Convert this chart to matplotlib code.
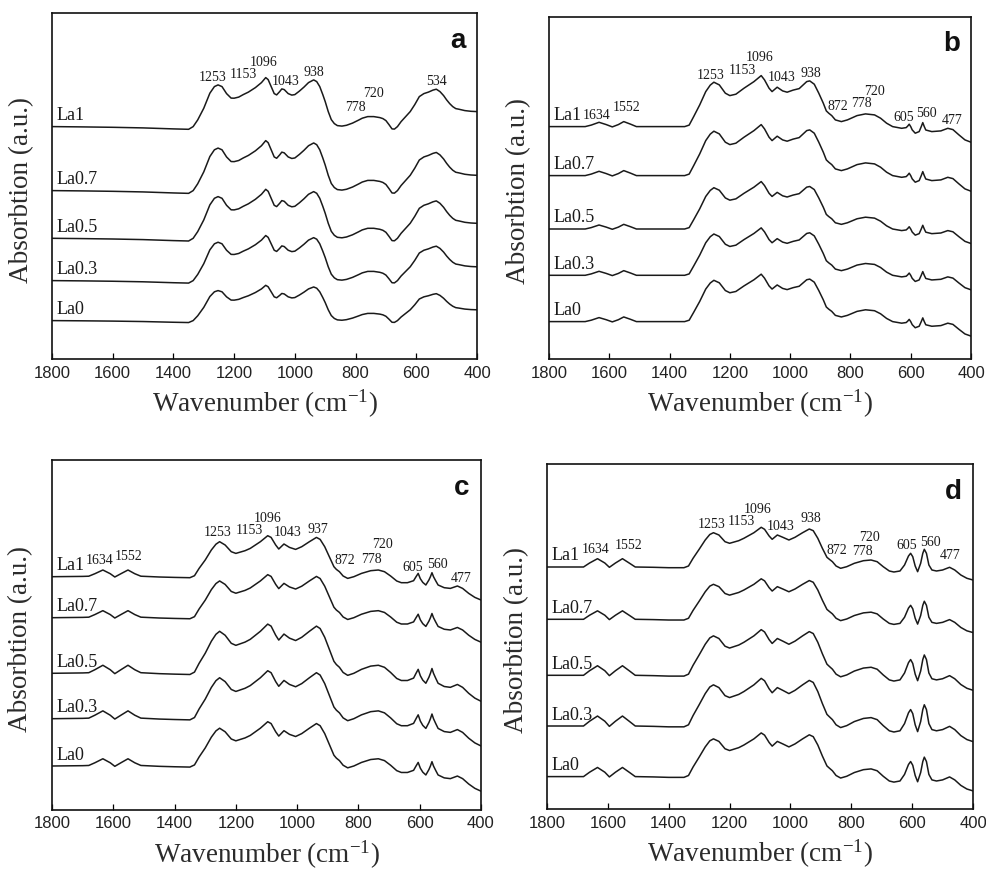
import matplotlib
matplotlib.use("Agg")
import matplotlib.pyplot as plt
import numpy as np

plt.rcParams['font.family'] = ['Liberation Serif', 'DejaVu Serif']
plt.rcParams['mathtext.fontset'] = 'custom'
plt.rcParams['mathtext.rm'] = 'Liberation Serif'
plt.rcParams['mathtext.it'] = 'Liberation Serif:italic'

# sample names, top to bottom
samples = ['La1', 'La0.7', 'La0.5', 'La0.3', 'La0']

# ---- panel a : spectrum shape (height of La1 above its 1800 level, px) ----
wn_a = [1800, 1700, 1600, 1500, 1400, 1350, 1335, 1320, 1300, 1280,
        1265, 1253, 1240, 1225, 1210, 1200, 1185, 1170, 1153, 1130,
        1110, 1096, 1088, 1078, 1068, 1060, 1050, 1043, 1035, 1022,
        1010, 1000, 985, 970, 955, 938, 928, 918, 908, 900,
        890, 880, 870, 860, 845, 830, 810, 790, 778, 760,
        740, 720, 710, 700, 690, 680, 672, 662, 650, 635,
        620, 605, 590, 575, 560, 545, 534, 522, 510, 500,
        490, 480, 470, 460, 440, 420, 400]
h_a = [0, -0.3, -0.7, -1.3, -2.3, -2.7, 0, 6.7, 18.4, 33.4,
       40, 41.7, 40, 33, 28.5, 28.4, 29.5, 32, 34.5, 39,
       44, 49, 47, 40, 33, 31.7, 35, 37.7, 37, 33,
       31.5, 32, 35.5, 39.5, 44, 46.7, 45, 40, 32, 25,
       15, 7, 3, 1, 0.5, 1.3, 3.5, 6.5, 8.4, 10,
       10, 9, 8, 6, 2, -2.3, -2.5, 0, 5, 10,
       15, 22, 30, 33, 34.5, 36.5, 37.4, 35, 31, 26.7,
       23, 20, 18, 17.4, 16, 15.3, 15]
base_a = [232.7, 168.7, 121, 78.7, 38.7]
gain_a = [1.0, 1.02, 1.0, 0.92, 0.72]

# ---- panel b ----
wn_b = [1800, 1700, 1680, 1660, 1634, 1610, 1590, 1570, 1552, 1530,
        1510, 1450, 1400, 1350, 1335, 1320, 1300, 1280, 1265, 1253,
        1235, 1215, 1200, 1180, 1153, 1120, 1096, 1085, 1070, 1060,
        1043, 1025, 1010, 990, 970, 945, 935, 920, 905, 890,
        880, 872, 862, 850, 830, 810, 778, 750, 720, 700,
        680, 660, 630, 615, 610, 605, 600, 595, 585, 572,
        565, 560, 555, 550, 530, 500, 477, 460, 440, 420,
        400]
h_b = [0, 0, 0, 1.5, 4.3, 2, -0.3, 2, 5, 2.5,
       0, 0, 0, 0, 1.5, 10, 21.7, 35, 41.5, 44.4,
       41.7, 33.4, 31, 32.4, 38.4, 45, 51, 46.7, 38.4, 35,
       39.4, 35.7, 34.4, 36.5, 38, 45, 45.7, 42.4, 33.4, 23.4,
       15.7, 13.4, 11, 6.7, 5, 6.7, 11, 12.7, 11.7, 8.4,
       3.4, 0, -1.7, -1, 0.5, 2.4, 0, -3.3, -6.6, -5,
       0, 4, 0, -3.4, -5, -4.3, -1.7, -3, -8.3, -13.3,
       -15.6]
base_b = [232.7, 183.7, 130.3, 84, 37.7]
gain_b = [1.0, 1.0, 0.93, 0.93, 0.93]

# ---- panel c ----
wn_c = [1800, 1700, 1680, 1660, 1634, 1610, 1595, 1575, 1552, 1530,
        1510, 1450, 1400, 1350, 1335, 1320, 1300, 1280, 1265, 1253,
        1235, 1215, 1200, 1170, 1153, 1120, 1096, 1085, 1070, 1060,
        1043, 1025, 1005, 985, 960, 937, 925, 910, 895, 880,
        872, 862, 850, 835, 815, 790, 760, 735, 715, 695,
        675, 660, 640, 620, 612, 605, 598, 590, 580, 570,
        565, 560, 555, 548, 540, 520, 500, 477, 460, 440,
        420, 400]
h_c = [0, 0.3, 0.5, 3, 6.7, 3, -0.3, 3, 6.7, 3,
       0.5, -0.3, -0.7, -1, 1, 8.3, 16.7, 26.7, 32.5, 35,
       31.7, 25, 23.3, 26, 28.3, 35, 41, 39.3, 31.7, 27.7,
       32.7, 29.3, 27.3, 30, 35, 39.3, 37.3, 30, 20, 10,
       7.3, 5, 0.7, -1.7, 0, 3.3, 6, 6.7, 5, 0.7,
       -4.3, -6, -6, -4, 0, 3.3, -2, -5.7, -8.3, -3.3,
       0, 4, 0, -4, -8.3, -11, -11.7, -9.3, -11.7, -16.7,
       -20.7, -23.3]
base_c = [233.3, 192.3, 136.7, 91.3, 44]
gain_c = [1.0, 1.05, 1.2, 1.17, 1.08]

# ---- panel d ----
wn_d = [1800, 1700, 1680, 1660, 1634, 1610, 1595, 1575, 1552, 1530,
        1510, 1450, 1400, 1350, 1335, 1320, 1300, 1280, 1265, 1253,
        1235, 1215, 1200, 1170, 1153, 1120, 1096, 1085, 1070, 1060,
        1043, 1025, 1005, 985, 960, 938, 925, 910, 895, 880,
        872, 862, 850, 835, 815, 790, 760, 735, 715, 695,
        675, 660, 640, 625, 612, 605, 598, 590, 582, 572,
        565, 560, 553, 545, 535, 520, 500, 477, 460, 440,
        420, 400]
h_d = [0, 0, 0, 4, 8.3, 4, -0.3, 4, 8.3, 4,
       0, -0.3, -0.7, -0.7, 1, 8.7, 17.7, 27, 32.5, 34.3,
       32, 25.3, 23.7, 26.3, 28.7, 34.3, 39.7, 37.7, 31, 27.7,
       32, 29.7, 27, 29.7, 34.3, 38, 36.3, 28.7, 18.7, 9.7,
       7.7, 5.3, 1, -1.3, 0.3, 3.7, 6.3, 7, 5.3, 0.3,
       -4, -5, -4, 2, 11, 13.7, 10.3, 1, -4.7, 3.7,
       13.7, 17.7, 13.7, 2, -3, -4, -3, -0.3, -3, -8,
       -11.3, -13]
base_d = [242.3, 190, 134, 83.3, 32.7]
gain_d = [1.0, 1.02, 1.15, 1.2, 1.1]

# peak labels
peaks_a = ['1253', '1153', '1096', '1043', '938', '778', '720', '534']
peaks_b = ['1634', '1552', '1253', '1153', '1096', '1043', '938',
           '872', '778', '720', '605', '560', '477']
peaks_c = ['1634', '1552', '1253', '1153', '1096', '1043', '937',
           '872', '778', '720', '605', '560', '477']
peaks_d = ['1634', '1552', '1253', '1153', '1096', '1043', '938',
           '872', '778', '720', '605', '560', '477']

# where the peak labels sit (wavenumber, px above axis bottom)
pos_a = [(1270, 278), (1169, 281), (1104, 293), (1029, 274), (938, 283.7),
         (801, 248), (742, 262), (533, 274)]
pos_b = [(1641, 240.3), (1543, 248.7), (1263, 280.3), (1157, 285.3),
         (1100, 298.7), (1029, 278.3), (930, 282), (842, 249.3), (762, 252.7),
         (720, 264.3), (622, 238.7), (547, 242.7), (463, 235.3)]
pos_c = [(1643, 245.7), (1549, 250), (1260, 274), (1157, 275.7), (1096, 288),
         (1031, 274), (933, 277.3), (843, 245.7), (759, 247.3), (723, 262.3),
         (622, 239), (541, 242.3), (465, 228)]
pos_d = [(1641, 256), (1533, 260.7), (1259, 281.7), (1160, 284), (1109, 296.7),
         (1033, 279.3), (933, 287.3), (847, 255), (763, 254), (741, 268.3),
         (619, 260), (539, 263.3), (476, 250)]

panels = [
    ('a', wn_a, h_a, base_a, gain_a, peaks_a, pos_a, [52, 13.3, 425, 346]),
    ('b', wn_b, h_b, base_b, gain_b, peaks_b, pos_b, [549, 16.6, 422, 342.7]),
    ('c', wn_c, h_c, base_c, gain_c, peaks_c, pos_c, [52, 460, 429, 350]),
    ('d', wn_d, h_d, base_d, gain_d, peaks_d, pos_d, [547, 464.3, 426, 345]),
]

W, H = 987, 872
fig = plt.figure(figsize=(W / 100, H / 100), dpi=100)
ink = '#1a1a1a'

for letter, wn, h, base, gain, peaks, pos, box in panels:
    left, top, width, height = box
    ax = fig.add_axes([left / W, 1 - (top + height) / H, width / W, height / H])
    wn = np.array(wn)
    h = np.array(h)
    for name, b0, g in zip(samples, base, gain):
        ax.plot(wn, b0 + g * h, color=ink, lw=1.1, solid_joinstyle='round')
        ax.text(1786, b0 + 6.5, name, fontsize=13, color=ink, va='baseline', ha='left')
    for lab, (px, py) in zip(peaks, pos):
        ax.text(px, py, lab, fontsize=10, color=ink, ha='center', va='baseline')

    ax.text(0.955, 0.90, letter, transform=ax.transAxes, fontsize=20,
            fontweight='bold', family='Liberation Sans', ha='center', va='baseline',
            color='#111111')

    ax.set_xlim(1800, 400)
    ax.set_ylim(0, height)
    ax.set_yticks([])
    ax.set_xticks(np.arange(1800, 399, -200))
    ax.tick_params(axis='x', direction='in', length=4, width=0.9, pad=4.5,
                   labelsize=12, labelcolor='#222222', top=False)
    for lbl in ax.get_xticklabels():
        lbl.set_family('Liberation Sans')
    for sp in ax.spines.values():
        sp.set_linewidth(1.2)
        sp.set_color('#111111')

    ax.set_xlabel('Wavenumber (cm$^{\\mathregular{-1}}$)', fontsize=19.5,
                  color='#2b2b2b', labelpad=5.5)
    ax.set_ylabel('Absorbtion (a.u.)', fontsize=19.5, color='#2b2b2b')
    ax.yaxis.set_label_coords(-0.043, 0.49)

fig.savefig('out.png', dpi=100)
